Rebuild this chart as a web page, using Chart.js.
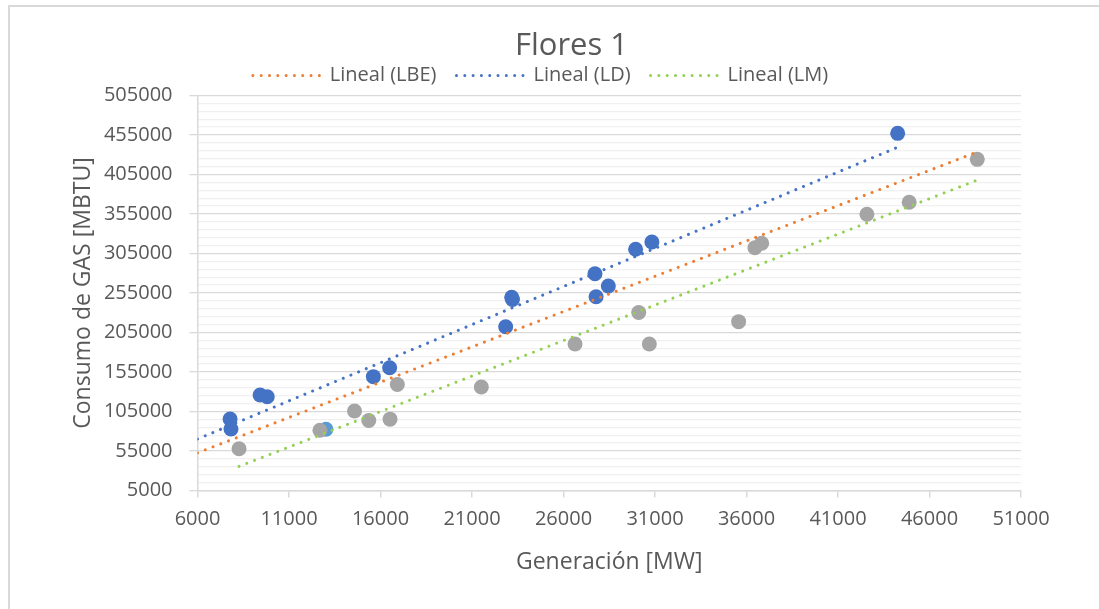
<!DOCTYPE html>
<html>
<head>
<meta charset="utf-8">
<title>Flores 1</title>
<script src="https://cdn.jsdelivr.net/npm/chart.js@4.4.0/dist/chart.umd.min.js"></script>
<style>
  html, body { margin: 0; padding: 0; background: #ffffff; }
  #wrap { position: absolute; left: 0; top: 0; width: 1099px; height: 609px; overflow: hidden; }
  #frame { position: absolute; left: 8px; top: 5px; width: 1200px; height: 700px;
           border-left: 2px solid #d9d9d9; border-top: 2px solid #d9d9d9; }
  canvas { position: absolute; left: 0; top: 0; }
</style>
</head>
<body>
<div id="wrap">
  <div id="frame"></div>
  <canvas id="chart" width="1099" height="609"></canvas>
</div>
<script>
// Generación [MW] vs. Consumo de GAS [MBTU]
const ldGen = [7780, 7830, 9420, 9810, 15610, 16500, 22840, 23170, 23210, 27720, 27780, 28450, 29940, 30830, 44260];
const ldGas = [95500, 82900, 125900, 123700, 149100, 160400, 212300, 249600, 246800, 279400, 250300, 263900, 310300, 319600, 457100];

const lmGen = [8270, 12690, 14580, 15360, 16520, 16920, 21510, 26630, 30110, 30690, 35570, 36460, 36830, 42580, 44890, 48610];
const lmGas = [57900, 81200, 105600, 93600, 95300, 139200, 136000, 190400, 230300, 190400, 218700, 312300, 317900, 354600, 369800, 424200];

const lbeGen = [13020];
const lbeGas = [82500];

// Linear trendlines (start / end)
const lbeTrendGen = [6000, 48610];
const lbeTrendGas = [52700, 433600];
const ldTrendGen = [6000, 44260];
const ldTrendGas = [70200, 439500];
const lmTrendGen = [8270, 48610];
const lmTrendGas = [35500, 397900];

// Axis ticks
const xTicks = [6000, 11000, 16000, 21000, 26000, 31000, 36000, 41000, 46000, 51000];
const yTicks = [5000, 55000, 105000, 155000, 205000, 255000, 305000, 355000, 405000, 455000, 505000];
const yMinorStep = 10000;

const FONT = 'Open Sans';
const TEXT = '#595959';
const DOTS = [0.01, 8.3];
const titleShift = 31;

const pts = (xs, ys) => xs.map((x, i) => ({ x: x, y: ys[i] }));

function trend(label, xs, ys, color) {
  return {
    label: label,
    data: pts(xs, ys),
    showLine: true,
    borderColor: color,
    backgroundColor: color,
    borderWidth: 3,
    borderDash: DOTS,
    borderCapStyle: 'round',
    pointRadius: 0,
    tension: 0,
    fill: false,
    isTrend: true
  };
}

function points(label, xs, ys, color) {
  return {
    label: label,
    data: pts(xs, ys),
    showLine: false,
    backgroundColor: color,
    borderColor: color,
    borderWidth: 0,
    pointRadius: 7.5,
    pointHoverRadius: 7.5
  };
}

const isMajorY = v => yTicks.includes(v);

const shiftTitle = {
  id: 'shiftTitle',
  afterLayout(chart) {
    const t = chart.titleBlock;
    if (t) { t.left += titleShift; t.right += titleShift; }
  }
};

new Chart(document.getElementById('chart'), {
  type: 'scatter',
  data: {
    datasets: [
      trend('Lineal (LBE)', lbeTrendGen, lbeTrendGas, '#ED7D31'),
      trend('Lineal (LD)', ldTrendGen, ldTrendGas, '#4472C4'),
      trend('Lineal (LM)', lmTrendGen, lmTrendGas, '#92D050'),
      points('LM', lmGen, lmGas, '#A5A5A5'),
      points('LD', ldGen, ldGas, '#4472C4'),
      points('LBE', lbeGen, lbeGas, '#5B9BD5')
    ]
  },
  options: {
    responsive: false,
    devicePixelRatio: 1,
    animation: false,
    events: [],
    layout: { padding: { left: 60, right: 78, top: 10.5, bottom: 20 } },
    plugins: {
      tooltip: { enabled: false },
      title: {
        display: true,
        text: 'Flores 1',
        color: TEXT,
        font: { family: FONT, size: 31, weight: 'normal' },
        padding: { top: 17.4, bottom: -19.6 }
      },
      legend: {
        display: true,
        position: 'top',
        labels: {
          color: TEXT,
          font: { family: FONT, size: 20 },
          padding: 20,
          usePointStyle: true,
          pointStyleWidth: 67,
          generateLabels(chart) {
            return chart.data.datasets
              .map((ds, i) => ({ ds: ds, i: i }))
              .filter(o => o.ds.isTrend)
              .map(o => ({
                text: o.ds.label,
                datasetIndex: o.i,
                fillStyle: o.ds.borderColor,
                strokeStyle: o.ds.borderColor,
                lineWidth: 3,
                lineDash: DOTS,
                lineCap: 'round',
                pointStyle: 'line',
                fontColor: TEXT,
                hidden: false
              }));
          }
        }
      }
    },
    scales: {
      x: {
        type: 'linear',
        position: 'bottom',
        min: xTicks[0],
        max: xTicks[xTicks.length - 1],
        afterBuildTicks(scale) { scale.ticks = xTicks.map(v => ({ value: v })); },
        afterFit(scale) { scale.height = 98.5; },
        grid: { drawOnChartArea: false, drawTicks: true, tickLength: 7, color: '#d9d9d9', lineWidth: 1.5 },
        border: { display: true, color: '#d9d9d9', width: 1.5 },
        ticks: {
          autoSkip: false,
          maxRotation: 0,
          padding: 10,
          color: TEXT,
          font: { family: FONT, size: 20 },
          callback: v => String(v)
        },
        title: {
          display: true,
          text: 'Generación [MW]',
          color: TEXT,
          font: { family: FONT, size: 23 },
          padding: { top: 0, bottom: 13.2 }
        }
      },
      y: {
        type: 'linear',
        position: 'left',
        min: yTicks[0],
        max: yTicks[yTicks.length - 1],
        afterBuildTicks(scale) {
          const t = [];
          for (let v = yTicks[0]; v <= yTicks[yTicks.length - 1]; v += yMinorStep) t.push({ value: v });
          scale.ticks = t;
        },
        afterFit(scale) { scale.width = 137.5; },
        grid: {
          color: c => (c.tick && isMajorY(c.tick.value)) ? '#d9d9d9' : '#f0f0f0',
          lineWidth: 1.3,
          tickColor: c => (c.tick && isMajorY(c.tick.value)) ? '#d9d9d9' : 'rgba(0,0,0,0)',
          tickLength: 8
        },
        border: { display: true, color: '#d9d9d9', width: 1.5 },
        ticks: {
          autoSkip: false,
          padding: 17,
          color: TEXT,
          font: { family: FONT, size: 20 },
          callback: v => isMajorY(v) ? String(v) : ''
        },
        title: {
          display: true,
          text: 'Consumo de GAS [MBTU]',
          color: TEXT,
          font: { family: FONT, size: 23 },
          padding: { top: 9.2, bottom: 0 }
        }
      }
    }
  },
  plugins: [shiftTitle]
});
</script>
</body>
</html>
